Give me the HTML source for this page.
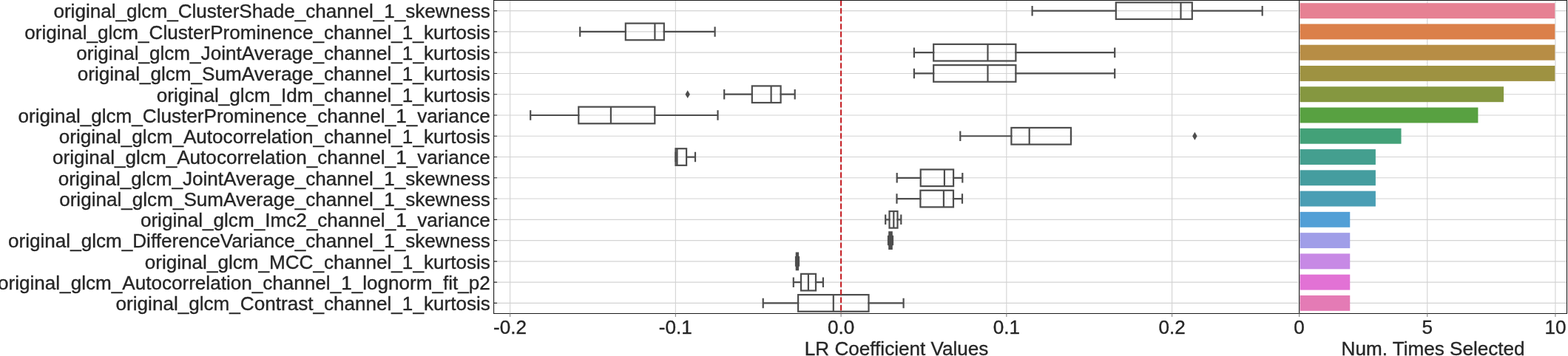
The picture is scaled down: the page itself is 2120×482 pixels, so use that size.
<!DOCTYPE html><html><head><meta charset="utf-8"><style>html,body{margin:0;padding:0;background:#fff;}svg{display:block;}text{font-family:"Liberation Sans",Arial,Helvetica,sans-serif;fill:#262626;font-size:26.10px;stroke:#262626;stroke-width:0.35px;}</style></head><body>
<svg width="2120" height="482" viewBox="0 0 2120 482">
<rect width="2120" height="482" fill="#fff"/>
<path d="M689.60 0.50V424.45M913.35 0.50V424.45M1137.10 0.50V424.45M1360.85 0.50V424.45M1584.60 0.50V424.45M667.60 14.63H1755.10M667.60 42.91H1755.10M667.60 71.17H1755.10M667.60 99.44H1755.10M667.60 127.72H1755.10M667.60 155.98H1755.10M667.60 184.25H1755.10M667.60 212.53H1755.10M667.60 240.79H1755.10M667.60 269.06H1755.10M667.60 297.33H1755.10M667.60 325.61H1755.10M667.60 353.88H1755.10M667.60 382.14H1755.10M667.60 410.42H1755.10M1929.75 0.50V424.45M2102.90 0.50V424.45M1756.60 14.63H2118.50M1756.60 42.91H2118.50M1756.60 71.17H2118.50M1756.60 99.44H2118.50M1756.60 127.72H2118.50M1756.60 155.98H2118.50M1756.60 184.25H2118.50M1756.60 212.53H2118.50M1756.60 240.79H2118.50M1756.60 269.06H2118.50M1756.60 297.33H2118.50M1756.60 325.61H2118.50M1756.60 353.88H2118.50M1756.60 382.14H2118.50M1756.60 410.42H2118.50" stroke="#d3d3d3" stroke-width="1.1" fill="none"/>
<rect x="1757.60" y="4.19" width="344.70" height="20.90" fill="#e68193"/>
<rect x="1757.60" y="32.45" width="344.70" height="20.90" fill="#db804a"/>
<rect x="1757.60" y="60.72" width="344.70" height="20.90" fill="#b78d45"/>
<rect x="1757.60" y="88.99" width="344.70" height="20.90" fill="#9e9241"/>
<rect x="1757.60" y="117.27" width="275.44" height="20.90" fill="#859740"/>
<rect x="1757.60" y="145.53" width="240.81" height="20.90" fill="#58a141"/>
<rect x="1757.60" y="173.81" width="136.92" height="20.90" fill="#43a178"/>
<rect x="1757.60" y="202.08" width="102.29" height="20.90" fill="#449f8f"/>
<rect x="1757.60" y="230.34" width="102.29" height="20.90" fill="#459d9f"/>
<rect x="1757.60" y="258.62" width="102.29" height="20.90" fill="#4a9eb4"/>
<rect x="1757.60" y="286.88" width="67.66" height="20.90" fill="#529fd6"/>
<rect x="1757.60" y="315.16" width="67.66" height="20.90" fill="#a09ee8"/>
<rect x="1757.60" y="343.43" width="67.66" height="20.90" fill="#c789e5"/>
<rect x="1757.60" y="371.69" width="67.66" height="20.90" fill="#e272d5"/>
<rect x="1757.60" y="399.97" width="67.66" height="20.90" fill="#e47bb5"/>
<rect x="1508.80" y="3.33" width="103.00" height="22.62" fill="none" stroke="#4d4d4d" stroke-width="2.2"/>
<rect x="845.80" y="31.60" width="52.00" height="22.62" fill="none" stroke="#4d4d4d" stroke-width="2.2"/>
<rect x="1262.20" y="59.87" width="111.20" height="22.62" fill="none" stroke="#4d4d4d" stroke-width="2.2"/>
<rect x="1262.20" y="88.14" width="111.20" height="22.62" fill="none" stroke="#4d4d4d" stroke-width="2.2"/>
<rect x="1016.80" y="116.41" width="38.80" height="22.62" fill="none" stroke="#4d4d4d" stroke-width="2.2"/>
<path d="M929.70 122.31L932.90 127.72L929.70 133.12L926.50 127.72Z" fill="#4d4d4d"/>
<rect x="782.30" y="144.68" width="103.00" height="22.62" fill="none" stroke="#4d4d4d" stroke-width="2.2"/>
<rect x="1367.40" y="172.95" width="80.60" height="22.62" fill="none" stroke="#4d4d4d" stroke-width="2.2"/>
<path d="M1615.40 178.85L1618.60 184.25L1615.40 189.66L1612.20 184.25Z" fill="#4d4d4d"/>
<rect x="913.50" y="201.22" width="14.60" height="22.62" fill="none" stroke="#4d4d4d" stroke-width="2.2"/>
<rect x="1244.70" y="229.49" width="44.40" height="22.62" fill="none" stroke="#4d4d4d" stroke-width="2.2"/>
<rect x="1244.40" y="257.76" width="44.60" height="22.62" fill="none" stroke="#4d4d4d" stroke-width="2.2"/>
<rect x="1202.50" y="286.03" width="11.00" height="22.62" fill="none" stroke="#4d4d4d" stroke-width="2.2"/>
<rect x="1202.30" y="314.30" width="3.40" height="22.62" fill="none" stroke="#4d4d4d" stroke-width="2.2"/>
<rect x="1076.80" y="342.57" width="2.20" height="22.62" fill="none" stroke="#4d4d4d" stroke-width="2.2"/>
<rect x="1083.00" y="370.84" width="20.00" height="22.62" fill="none" stroke="#4d4d4d" stroke-width="2.2"/>
<rect x="1079.10" y="399.11" width="95.40" height="22.62" fill="none" stroke="#4d4d4d" stroke-width="2.2"/>
<path d="M1395.60 14.63H1508.80M1611.80 14.63H1706.70M1395.60 8.98V20.29M1706.70 8.98V20.29M784.20 42.91H845.80M897.80 42.91H966.60M784.20 37.25V48.56M966.60 37.25V48.56M1235.90 71.17H1262.20M1373.40 71.17H1507.20M1235.90 65.52V76.83M1507.20 65.52V76.83M1235.90 99.44H1262.20M1373.40 99.44H1507.20M1235.90 93.79V105.10M1507.20 93.79V105.10M979.20 127.72H1016.80M1055.60 127.72H1074.70M979.20 122.06V133.37M1074.70 122.06V133.37M717.20 155.98H782.30M885.30 155.98H970.50M717.20 150.33V161.64M970.50 150.33V161.64M1298.30 184.25H1367.40M1298.30 178.60V189.91M1448.00 178.60V189.91M928.10 212.53H940.00M913.50 206.87V218.18M940.00 206.87V218.18M1212.70 240.79H1244.70M1289.10 240.79H1301.30M1212.70 235.14V246.45M1301.30 235.14V246.45M1212.50 269.06H1244.40M1289.00 269.06H1301.00M1212.50 263.41V274.72M1301.00 263.41V274.72M1197.20 297.33H1202.50M1213.50 297.33H1218.30M1197.20 291.68V302.99M1218.30 291.68V302.99M1201.00 325.61H1202.30M1205.70 325.61H1207.00M1201.00 319.95V331.26M1207.00 319.95V331.26M1076.00 353.88H1076.80M1079.00 353.88H1080.00M1076.00 348.22V359.53M1080.00 348.22V359.53M1072.80 382.14H1083.00M1103.00 382.14H1112.90M1072.80 376.49V387.80M1112.90 376.49V387.80M1031.70 410.42H1079.10M1174.50 410.42H1221.60M1031.70 404.76V416.07M1221.60 404.76V416.07" stroke="#4d4d4d" stroke-width="2.2" stroke-linecap="square" fill="none"/>
<path d="M1596.50 3.33V25.94M885.40 31.60V54.21M1335.50 59.87V82.48M1335.50 88.14V110.75M1042.60 116.41V139.02M825.90 144.68V167.29M1391.70 172.95V195.56M915.50 201.22V223.83M1276.90 229.49V252.10M1275.90 257.76V280.37M1208.30 286.03V308.64M1204.00 314.30V336.91M1078.00 342.57V365.18M1092.90 370.84V393.45M1126.80 399.11V421.72" stroke="#4d4d4d" stroke-width="2.2" fill="none"/>
<path d="M1137.10 0.5V424.45" stroke="#c41a1f" stroke-width="2" stroke-dasharray="7.39 3.19" fill="none"/>
<path d="M667.60 0.5H2118.50M667.60 424.45H2118.50M667.60 0V424.95M1756.60 0V424.95M2118.50 0V424.95" stroke="#1a1a1a" stroke-width="1.1" fill="none"/>
<path d="M667.60 14.63H672.10M667.60 42.91H672.10M667.60 71.17H672.10M667.60 99.44H672.10M667.60 127.72H672.10M667.60 155.98H672.10M667.60 184.25H672.10M667.60 212.53H672.10M667.60 240.79H672.10M667.60 269.06H672.10M667.60 297.33H672.10M667.60 325.61H672.10M667.60 353.88H672.10M667.60 382.14H672.10M667.60 410.42H672.10" stroke="#333" stroke-width="1.1" fill="none"/>
<path d="M689.60 424.45V428.95M913.35 424.45V428.95M1137.10 424.45V428.95M1360.85 424.45V428.95M1584.60 424.45V428.95M1756.60 424.45V428.95M1929.75 424.45V428.95M2102.90 424.45V428.95" stroke="#888" stroke-width="1.1" fill="none"/>
<text x="662.8" y="24.44" text-anchor="end">original_glcm_ClusterShade_channel_1_skewness</text>
<text x="662.8" y="52.70" text-anchor="end">original_glcm_ClusterProminence_channel_1_kurtosis</text>
<text x="662.8" y="80.97" text-anchor="end">original_glcm_JointAverage_channel_1_kurtosis</text>
<text x="662.8" y="109.24" text-anchor="end">original_glcm_SumAverage_channel_1_kurtosis</text>
<text x="662.8" y="137.52" text-anchor="end">original_glcm_Idm_channel_1_kurtosis</text>
<text x="662.8" y="165.78" text-anchor="end">original_glcm_ClusterProminence_channel_1_variance</text>
<text x="662.8" y="194.06" text-anchor="end">original_glcm_Autocorrelation_channel_1_kurtosis</text>
<text x="662.8" y="222.33" text-anchor="end">original_glcm_Autocorrelation_channel_1_variance</text>
<text x="662.8" y="250.59" text-anchor="end">original_glcm_JointAverage_channel_1_skewness</text>
<text x="662.8" y="278.87" text-anchor="end">original_glcm_SumAverage_channel_1_skewness</text>
<text x="662.8" y="307.13" text-anchor="end">original_glcm_Imc2_channel_1_variance</text>
<text x="662.8" y="335.41" text-anchor="end">original_glcm_DifferenceVariance_channel_1_skewness</text>
<text x="662.8" y="363.68" text-anchor="end">original_glcm_MCC_channel_1_kurtosis</text>
<text x="662.8" y="391.94" text-anchor="end">original_glcm_Autocorrelation_channel_1_lognorm_fit_p2</text>
<text x="662.8" y="420.22" text-anchor="end">original_glcm_Contrast_channel_1_kurtosis</text>
<text x="689.60" y="452.3" text-anchor="middle">-0.2</text>
<text x="913.35" y="452.3" text-anchor="middle">-0.1</text>
<text x="1137.10" y="452.3" text-anchor="middle">0.0</text>
<text x="1360.85" y="452.3" text-anchor="middle">0.1</text>
<text x="1584.60" y="452.3" text-anchor="middle">0.2</text>
<text x="1756.60" y="452.3" text-anchor="middle">0</text>
<text x="1929.75" y="452.3" text-anchor="middle">5</text>
<text x="2102.90" y="452.3" text-anchor="middle">10</text>
<text x="1212.10" y="481.2" text-anchor="middle">LR Coefficient Values</text>
<text x="1937.55" y="481.2" text-anchor="middle">Num. Times Selected</text>
</svg></body></html>
